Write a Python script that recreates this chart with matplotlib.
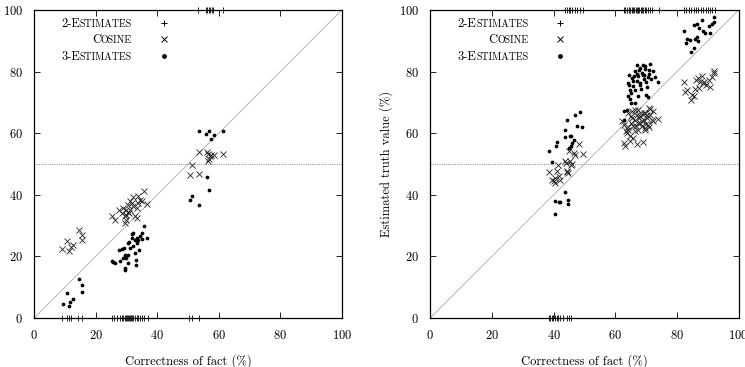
import matplotlib
matplotlib.use("Agg")
import matplotlib.pyplot as plt

plt.rcParams['font.family'] = 'cmr10'
plt.rcParams['axes.formatter.use_mathtext'] = True

# ---- left panel ----
left_cos_x = [9.1, 10.7, 11.3, 11.9, 12.6, 14.5, 15.6, 15.5,
              25.2, 26.2, 27.5, 28.4, 29.5, 29.6, 30.0, 30.6, 31.1, 32.0, 32.2, 32.8, 33.3,
              33.8, 34.4, 34.9, 35.7, 36.8, 30.8, 31.3, 30.0, 29.0, 31.7, 33.3, 33.8, 30.0, 30.4,
              50.8, 51.3, 53.6, 53.7, 56.1, 56.6, 56.9, 57.2, 57.5, 58.5, 61.3, 56.6]
left_cos_y = [22.5, 24.9, 21.6, 23.2, 23.6, 28.7, 26.8, 25.2,
              33.2, 31.9, 35.0, 34.1, 33.0, 30.8, 35.2, 36.8, 37.9, 39.3, 36.3, 33.0, 32.5,
              37.3, 38.4, 37.9, 41.3, 37.1, 34.1, 35.2, 33.5, 35.7, 37.3, 35.7, 39.5, 31.9, 34.3,
              46.3, 49.6, 46.8, 53.8, 53.9, 53.2, 51.7, 52.5, 53.0, 53.0, 53.4, 50.9]
left_three_x = [9.2, 10.7, 11.3, 11.5, 12.5, 14.5, 15.5, 15.5,
                25.2, 25.7, 26.2, 27.7, 28.4, 29.2, 27.9, 29.5, 29.7, 30.0, 29.6, 29.5, 30.4,
                30.6, 30.9, 31.7, 32.0, 32.2, 32.8, 33.1, 33.1, 30.6, 32.8, 33.3, 33.8, 34.2,
                34.4, 34.9, 35.2, 35.7, 36.8, 31.1, 31.7, 29.0, 33.5,
                50.8, 51.4, 53.6, 53.7, 55.9, 56.8, 57.4, 58.5, 61.3, 56.1, 56.9]
left_three_y = [4.7, 8.1, 3.8, 5.2, 6.3, 12.8, 10.7, 8.3,
                18.4, 18.1, 17.9, 22.0, 22.4, 22.7, 18.4, 20.6, 20.0, 19.5, 16.2, 15.7, 20.6,
                24.4, 24.7, 27.4, 27.6, 23.3, 21.1, 18.9, 17.3, 17.9, 25.2, 26.0, 25.4, 22.2,
                26.5, 27.6, 25.6, 30.0, 26.0, 22.7, 26.0, 19.5, 24.4,
                38.4, 39.7, 36.6, 60.8, 59.7, 60.8, 58.2, 59.5, 60.8, 45.7, 41.7]
left_two_low = [9.1, 10.5, 11.3, 11.9, 14.3, 15.4, 25.2, 26.0, 26.8, 27.9, 28.4, 29.0,
                29.5, 29.8, 30.2, 30.5, 30.8, 31.2, 31.5, 31.8, 32.2, 32.8, 33.3, 33.8,
                34.4, 34.9, 35.8, 36.9, 50.4, 51.2, 53.6]
left_two_high = [53.4, 55.9, 56.3, 56.7, 57.2, 57.7, 58.2, 61.3]

# ---- right panel ----
right_cos_x = [38.4, 39.5, 40.0, 40.4, 40.6, 41.1, 41.4, 41.6, 42.1, 43.6, 44.1, 44.3, 44.7,
               44.9, 45.4, 45.7, 46.0, 46.5, 47.0, 48.4, 49.4, 44.3,
               63.3, 62.9, 63.8, 64.3, 64.9, 65.2, 65.6, 65.9, 66.4, 67.0, 67.1, 67.5, 68.1,
               68.4, 68.9, 69.2, 69.5, 69.7, 70.3, 70.8, 71.4, 71.9, 72.4, 73.8, 62.2, 62.7,
               64.3, 65.4, 66.4, 67.5, 68.6, 69.7, 70.6, 72.4, 64.9, 65.9, 63.5, 68.1, 69.2,
               67.5, 66.4, 71.4, 65.0, 66.8, 68.8, 70.2, 71.0, 64.0, 67.8, 69.9,
               82.2, 82.7, 83.2, 84.7, 85.4, 85.9, 86.2, 86.8, 87.3, 87.6, 88.0, 88.4, 89.3,
               90.3, 90.9, 91.4, 91.9, 92.2, 84.9, 88.7]
right_cos_y = [47.3, 44.9, 44.4, 45.5, 44.0, 47.6, 49.8, 46.0, 44.9, 51.1, 50.5, 47.3, 47.1,
               54.4, 50.9, 49.8, 50.1, 53.6, 53.0, 56.5, 53.4, 47.9,
               55.7, 56.8, 60.1, 61.1, 59.0, 63.3, 64.9, 62.2, 64.4, 66.0, 56.5, 63.3, 65.5,
               66.6, 57.1, 64.4, 61.7, 66.6, 64.9, 68.2, 66.0, 64.4, 67.1, 64.6, 63.9, 62.8,
               66.6, 67.1, 60.6, 61.1, 62.2, 61.1, 62.8, 63.9, 57.4, 58.4, 60.6, 63.3, 66.6,
               67.6, 67.6, 67.9, 65.5, 62.5, 64.0, 65.8, 62.0, 62.0, 64.8, 63.0,
               76.6, 73.3, 73.9, 70.9, 72.0, 74.4, 77.4, 77.9, 74.7, 76.8, 78.7, 76.3, 75.8,
               77.4, 75.0, 78.2, 79.5, 80.1, 72.5, 76.5]
right_three_x = [38.4, 39.5, 40.3, 40.7, 41.1, 40.6, 41.6, 42.1, 43.6, 43.8, 43.6, 44.4, 44.7,
                 44.7, 44.9, 45.2, 45.7, 46.5, 46.0, 47.0, 47.6, 48.7, 49.2, 45.6,
                 62.7, 63.0, 63.8, 64.1, 64.3, 64.5, 64.9, 65.2, 65.4, 65.9, 66.4, 67.0, 67.0,
                 67.3, 67.5, 68.1, 68.4, 68.6, 69.2, 69.7, 70.0, 70.3, 70.6, 71.1, 71.4, 71.7,
                 72.2, 72.8, 73.8, 66.3, 65.8, 67.9, 69.4, 66.4, 64.9, 68.9, 70.6,
                 65.1, 66.0, 67.2, 68.0, 69.0, 70.1, 71.0, 64.6, 67.7, 69.6,
                 82.2, 82.9, 83.2, 84.3, 84.7, 85.4, 85.7, 85.9, 86.5, 86.8, 87.3, 88.1, 88.4,
                 89.2, 90.3, 90.9, 91.4, 91.9, 92.2, 86.5]
right_three_y = [54.4, 50.6, 33.8, 55.7, 57.0, 37.9, 37.6, 37.7, 61.1, 58.9, 40.9, 64.4, 38.4,
                 37.1, 55.3, 59.2, 59.2, 57.9, 56.8, 65.8, 62.4, 66.8, 62.0, 55.7,
                 67.3, 64.4, 67.6, 72.0, 76.3, 79.0, 74.1, 69.8, 77.9, 75.2, 80.1, 82.3, 76.9,
                 72.0, 78.5, 81.2, 74.5, 79.7, 77.5, 81.7, 72.3, 75.0, 78.2, 80.7, 82.5, 77.5,
                 80.1, 78.2, 76.8, 69.8, 77.0, 75.7, 79.0, 74.1, 71.0, 82.3, 71.9,
                 73.0, 78.6, 79.4, 76.2, 78.8, 76.5, 79.2, 75.8, 80.6, 80.9,
                 93.3, 89.3, 90.6, 90.4, 86.3, 95.2, 87.7, 90.6, 95.6, 89.8, 94.2, 96.9, 93.1,
                 92.5, 94.9, 92.5, 95.6, 97.9, 96.1, 91.2]
right_two_low = [38.4, 38.8, 39.4, 39.9, 40.4, 41.0, 41.5, 42.0, 43.1, 44.2, 45.1, 45.8]
right_two_high = [43.6, 44.3, 44.9, 45.4, 46.0, 47.0, 47.6, 48.7, 49.4,
                  62.7, 63.3, 63.9, 64.4, 64.9, 65.4, 65.8, 66.2, 66.6, 67.0, 67.4, 67.8,
                  68.2, 68.6, 69.0, 69.5, 70.0, 70.6, 71.3, 72.0, 74.1,
                  82.2, 83.0, 83.8, 84.6, 85.5, 86.2, 87.0, 87.8, 88.5, 89.4, 90.2, 90.9,
                  91.5, 92.4]

ticks = [0, 20, 40, 60, 80, 100]
FS = 9

fig = plt.figure(figsize=(7.45, 3.67), dpi=100)
ax1 = fig.add_axes([0.046, 0.1335, 0.4126, 0.839])
ax2 = fig.add_axes([0.5776, 0.1335, 0.4137, 0.839])


def legend_row(ax, y, big, small, marker, ms):
    s = ax.text(0.318, y, small, transform=ax.transAxes, ha='right',
                va='baseline', fontsize=FS * 0.8)
    ax.annotate(big, xy=(0, y), xycoords=(s, ax.transAxes), ha='right',
                va='baseline', fontsize=FS)
    ax.plot([0.422], [y + 0.012], transform=ax.transAxes, marker=marker,
            ms=ms, mew=0.7, color='black', ls='none', clip_on=False)


def panel(ax, cos_x, cos_y, three_x, three_y, two_low, two_high):
    ax.plot([0, 100], [0, 100], color='#aaaaaa', lw=0.6)
    ax.axhline(50, color='#999999', lw=0.8, ls=(0, (1, 1)))
    ax.plot(two_low, [0] * len(two_low), '+', color='black', ms=5, mew=0.6,
            clip_on=False, zorder=5)
    ax.plot(two_high, [100] * len(two_high), '+', color='black', ms=5, mew=0.6,
            clip_on=False, zorder=5)
    ax.plot(cos_x, cos_y, 'x', color='#222222', ms=4.5, mew=0.6)
    ax.plot(three_x, three_y, 'o', color='black', ms=2.7, mew=0)
    ax.set_xlim(0, 100)
    ax.set_ylim(0, 100)
    ax.set_xticks(ticks)
    ax.set_yticks(ticks)
    ax.tick_params(direction='in', length=4, width=0.6, top=True, right=True,
                   labelsize=FS, pad=8)
    for sp in ax.spines.values():
        sp.set_linewidth(0.9)
    ax.set_xlabel('Correctness of fact (%)', fontsize=FS, labelpad=9)
    ax.set_ylabel('Estimated truth value (%)', fontsize=FS, labelpad=4)
    legend_row(ax, 0.945, '2-E', 'STIMATES', '+', 5)
    legend_row(ax, 0.893, 'C', 'OSINE', 'x', 4.5)
    legend_row(ax, 0.838, '3-E', 'STIMATES', 'o', 2.7)


panel(ax1, left_cos_x, left_cos_y, left_three_x, left_three_y,
      left_two_low, left_two_high)
panel(ax2, right_cos_x, right_cos_y, right_three_x, right_three_y,
      right_two_low, right_two_high)

fig.savefig('out.png', dpi=100)
